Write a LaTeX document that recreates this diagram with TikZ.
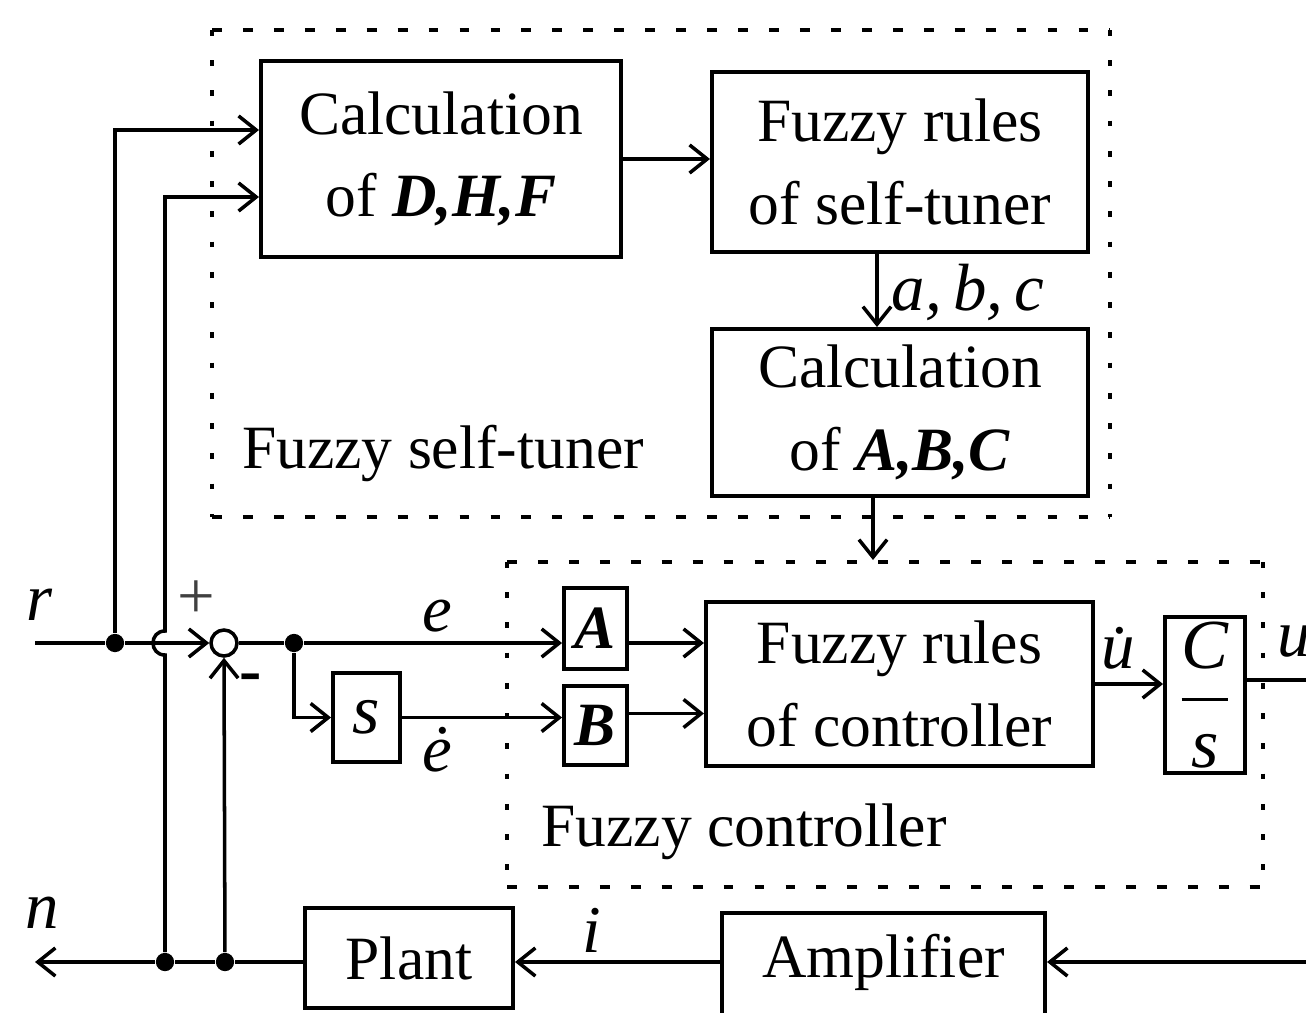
\documentclass[tikz,border=0pt]{standalone}
\usepackage{amsmath}
\usepackage{fontspec}
\setmainfont{Liberation Serif}
\usetikzlibrary{arrows.meta,calc}
\begin{document}
\begin{tikzpicture}[x=0.01cm,y=-0.01cm,
  every node/.style={font=\fontsize{17.5}{23.5}\selectfont},
  blk/.style={draw,line width=1.1pt,inner sep=0pt,align=center},
  ln/.style={line width=1pt},
  arr/.style={ln,-{Straight Barb[length=5pt,width=8pt,line width=1pt]}},
  dot/.style={circle,fill,inner sep=0pt,minimum size=5.2pt},
  lbl/.style={font=\fontsize{19}{22}\selectfont\itshape,inner sep=0pt},
  dashh/.style={line width=1pt,dash pattern=on 2.8pt off 6pt},
  dashv/.style={line width=1.1pt,dash pattern=on 1.6pt off 7pt},
]
\useasboundingbox (0,0) rectangle (1306,1012);
\clip (0,0) rectangle (1306,1012);

% dashed group boxes
\draw[dashh] (212,30) -- (1110,30) (212,517) -- (1110,517);
\draw[dashv] (212,30) -- (212,517) (1110,30) -- (1110,517);
\draw[dashh] (507,562) -- (1263,562) (507,887) -- (1263,887);
\draw[dashv] (507,562) -- (507,887) (1263,562) -- (1263,887);

% blocks
\node[blk,minimum width=3.6cm,minimum height=1.96cm] (dhf) at (441,159) {Calculation\\ of \textbf{\textit{D,H,F}}};
\node[blk,minimum width=3.76cm,minimum height=1.8cm] (frs) at (900,162) {Fuzzy rules\\ of self-tuner};
\node[blk,minimum width=3.76cm,minimum height=1.67cm] (abc) at (900,412.5) {Calculation\\ of \textbf{\textit{A,B,C}}};
\node[blk,minimum width=0.63cm,minimum height=0.81cm] (A) at (595.5,628.5) {\textbf{\textit{A}}};
\node[blk,minimum width=0.63cm,minimum height=0.79cm] (B) at (595.5,725.5) {\textbf{\textit{B}}};
\node[blk,minimum width=3.87cm,minimum height=1.64cm] (frc) at (899.5,684) {Fuzzy rules\\ of controller};
\node[blk,minimum width=0.8cm,minimum height=1.56cm] (cs) at (1205,695) {\fontsize{20}{22}\selectfont$\displaystyle\genfrac{}{}{1pt}{0}{\textit{C}}{\textit{s}}$};
\node[blk,minimum width=0.67cm,minimum height=0.89cm] (s) at (366.5,717.5) {\fontsize{20}{22}\selectfont\textit{s}};
\node[blk,minimum width=2.08cm,minimum height=1.0cm] (plant) at (409,958) {Plant};
\node[blk,minimum width=3.23cm,minimum height=1.17cm] (amp) at (883.5,971.5) {};
\node (ampt) at (883.5,962) {Amplifier};

% summing junction and dots
\node[circle,draw,line width=1pt,minimum size=0.26cm,inner sep=0pt] (sum) at (224,643) {};
\node[dot] (d1) at (115,643) {};
\node[dot] (d2) at (294,643) {};
\node[dot] (d3) at (165,962) {};
\node[dot] (d4) at (225,962) {};
\coordinate (rin) at (35,643);
\coordinate (nout) at (35,962);
\coordinate (uout) at (1306,680);
\coordinate (ampin) at (1306,962);
\coordinate (ctop) at (873,560);

% connectors
\draw[ln] (rin) -- (d1);
\draw[arr] (d1) -- (sum.west);
\draw[arr] (d1) |- ($(dhf.west)+(0,-29)$);
\draw[arr] (d3) -- (165,655) .. controls (149,655) and (149,631) .. (165,631) |- ($(dhf.west)+(0,38)$);
\draw[arr] (d4) -- (sum.south);
\draw[ln] (sum.east) -- (d2);
\draw[arr] (d2) -- (A.west |- d2);
\draw[arr] (d2) |- (s.west);
\draw[arr] (s.east) -- (B.west |- s.east);
\draw[arr] (A.east |- d2) -- (frc.west |- d2);
\draw[arr] ($(B.east)+(0,-12)$) -- (frc.west |- {$(B.east)+(0,-12)$});
\draw[arr] (frc.east) -- (cs.west |- frc.east);
\draw[ln] (cs.east |- uout) -- (uout);
\draw[arr] (dhf.east) -- (frs.west |- dhf.east);
\draw[arr] ($(frs.south)+(-23,0)$) -- ($(abc.north)+(-23,0)$);
\draw[arr] ($(abc.south)+(-27,0)$) -- (ctop);
\draw[arr] (ampin) -- (amp.east |- ampin);
\draw[arr] (amp.west |- d3) -- (plant.east |- d3);
\draw[ln] (plant.west |- d3) -- (d4) -- (d3);
\draw[arr] (d3) -- (nout);

% labels
\node[lbl] (lr) at (40,605) {r};
\node[lbl] (ln) at (42,913) {n};
\node[lbl] (le) at (437,616) {e};
\node[lbl] (led) at (437,750) {\.{e}};
\node[inner sep=0pt,font=\fontsize{19}{22}\selectfont\color{black!75}] (lp) at (196,600) {+};
\node[inner sep=0pt,font=\fontsize{19}{22}\selectfont\bfseries] (lm) at (251,683) {-};
\node[lbl] (labc) at (968,292) {a,\,b,\,c};
\node[lbl] (lud) at (1118,648) {\.{u}};
\node[lbl] (lu) at (1294,642) {u};
\node[lbl] (li) at (592,930) {i};
\node (lfst) at (443,453) {Fuzzy self-tuner};
\node (lfc) at (744,832) {Fuzzy controller};
\end{tikzpicture}
\end{document}
